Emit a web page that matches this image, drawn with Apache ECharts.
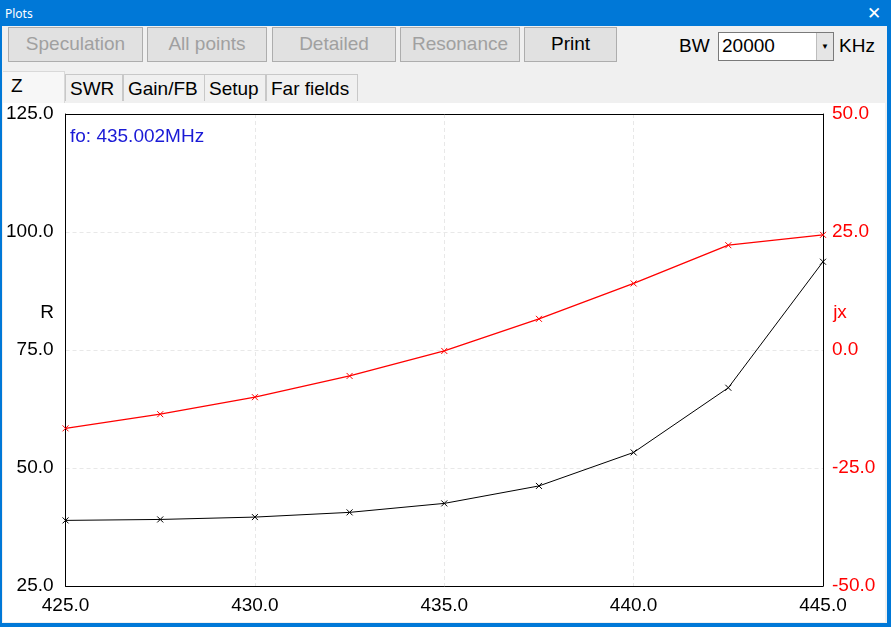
<!DOCTYPE html>
<html>
<head>
<meta charset="utf-8">
<script src="https://cdn.jsdelivr.net/npm/echarts@6/dist/echarts.min.js"></script>
<style>
  body { margin: 0; width: 891px; height: 627px; overflow: hidden; background: #0078d7; font-family: "Liberation Sans", Arial, sans-serif; }
  .win { position: absolute; left: 2px; top: 26px; width: 885px; height: 597px; background: #f0f0f0; }
  .title { position: absolute; left: 5px; top: 5px; color: #fff; font: 12px "Noto Sans", "DejaVu Sans", sans-serif; }
  .close { position: absolute; left: 867px; top: 3px; color: #fff; font: 17px "DejaVu Sans", sans-serif; font-weight: 200; }
  .btn { position: absolute; top: 1px; height: 35px; background: #e1e1e1; border: 1px solid #adadad; box-sizing: border-box;
         font-size: 19px; color: #a0a0a0; text-align: center; line-height: 31px; }
  .btn.on { color: #000; }
  .lbl { position: absolute; font-size: 19px; color: #000; }
  .combo { position: absolute; left: 716px; top: 6px; width: 116px; height: 29px; background: #fff; border: 1px solid #7a7a7a; box-sizing: border-box; font-size: 19px; line-height: 26px; padding-left: 3px; }
  .combo .arr { position: absolute; right: 0; top: 0; width: 16px; height: 27px; background: #e5e5e5; border-left: 1px solid #bdbdbd; font-size: 8px; text-align: center; line-height: 27px; }
  .tab { position: absolute; top: 48px; height: 27px; border: 1px solid #c8c8c8; border-bottom: none; box-sizing: border-box; background: #f0f0f0; font-size: 19px; line-height: 27px; padding-left: 4px; }
  .tab.sel { top: 45px; height: 32px; border-color: #d9d9d9; border-left: none; background: #f7f7f7; padding-left: 8px; line-height: 28px; }
  #chart { position: absolute; left: 3px; top: 103px; width: 882px; height: 519px; background: #fff; }
</style>
</head>
<body>
<div class="title">Plots</div>
<div class="close">✕</div>
<div class="win">
  <div class="btn" style="left:6px;width:135px">Speculation</div>
  <div class="btn" style="left:145px;width:120px">All points</div>
  <div class="btn" style="left:270px;width:124px">Detailed</div>
  <div class="btn" style="left:398px;width:120px">Resonance</div>
  <div class="btn on" style="left:522px;width:93px">Print</div>
  <div class="lbl" style="left:677px;top:9px">BW</div>
  <div class="combo">20000<div class="arr">▼</div></div>
  <div class="lbl" style="left:837px;top:9px">KHz</div>
  <div class="tab sel" style="left:1px;width:62px">Z</div>
  <div class="tab" style="left:63px;width:58px">SWR</div>
  <div class="tab" style="left:121px;width:82px">Gain/FB</div>
  <div class="tab" style="left:202px;width:62px">Setup</div>
  <div class="tab" style="left:264px;width:92px">Far fields</div>
</div>
<div id="chart"></div>
<script>
var freqs = [425.0, 427.5, 430.0, 432.5, 435.0, 437.5, 440.0, 442.5, 445.0];
var rValues = [38.9, 39.1, 39.6, 40.6, 42.5, 46.2, 53.3, 67.0, 93.7];
var jxValues = [-16.6, -13.6, -10.0, -5.5, -0.2, 6.6, 14.1, 22.2, 24.4];
var foText = 'fo: 435.002MHz';

function pairs(ys) {
    return freqs.map(function (f, i) { return [f, ys[i]]; });
}

var crossMark = 'path://M0,0L10,10M10,0L0,10';
var font = '"Liberation Sans", Arial, sans-serif';
var fmt = function (v) { return v.toFixed(1); };
var grid = { color: '#e8e8e8', type: [4, 3] };

var chart = echarts.init(document.getElementById('chart'));
chart.setOption({
    animation: false,
    backgroundColor: '#fff',
    grid: { left: 62, right: 62, top: 11, bottom: 36 },
    xAxis: [{
        type: 'value', min: 425, max: 445, interval: 5,
        axisLine: { onZero: false, lineStyle: { color: '#000' } },
        axisTick: { show: false },
        axisLabel: { formatter: fmt, color: '#000', fontSize: 19, fontFamily: font, margin: 10 },
        splitLine: { showMinLine: false, showMaxLine: false, lineStyle: grid }
    }, {
        // top border of the plot box
        type: 'value', min: 425, max: 445, position: 'top',
        axisLine: { onZero: false, lineStyle: { color: '#000' } },
        axisTick: { show: false }, axisLabel: { show: false }, splitLine: { show: false }
    }],
    yAxis: [{
        type: 'value', min: 25, max: 125, interval: 25,
        axisLine: { show: true, onZero: false, lineStyle: { color: '#000' } },
        axisTick: { show: false },
        axisLabel: { formatter: fmt, color: '#000', fontSize: 19, fontFamily: font, margin: 12 },
        splitLine: { showMinLine: false, showMaxLine: false, lineStyle: grid }
    }, {
        type: 'value', min: -50, max: 50, interval: 25, position: 'right',
        axisLine: { show: true, onZero: false, lineStyle: { color: '#000' } },
        axisTick: { show: false },
        axisLabel: { formatter: fmt, color: '#ff0000', fontSize: 19, fontFamily: font, margin: 9 },
        splitLine: { show: false }
    }],
    graphic: [
        { type: 'text', x: 67, y: 34, style: { text: foText, fill: '#1a1ad6', font: '19px ' + font, textVerticalAlign: 'middle' } },
        { type: 'text', x: 44, y: 210, style: { text: 'R', fill: '#000', font: '19px ' + font, textAlign: 'center', textVerticalAlign: 'middle' } },
        { type: 'text', x: 837, y: 210, style: { text: 'jx', fill: '#ff0000', font: '19px ' + font, textAlign: 'center', textVerticalAlign: 'middle' } }
    ],
    series: [{
        name: 'R', type: 'line', yAxisIndex: 0, data: pairs(rValues),
        symbol: crossMark, symbolSize: 6, showAllSymbol: true,
        lineStyle: { color: '#000', width: 1 },
        itemStyle: { color: 'none', borderColor: '#000', borderWidth: 1 }
    }, {
        name: 'jx', type: 'line', yAxisIndex: 1, data: pairs(jxValues),
        symbol: crossMark, symbolSize: 6, showAllSymbol: true,
        lineStyle: { color: '#ff0000', width: 1.3 },
        itemStyle: { color: 'none', borderColor: '#ff0000', borderWidth: 1 }
    }]
});
</script>
</body>
</html>
